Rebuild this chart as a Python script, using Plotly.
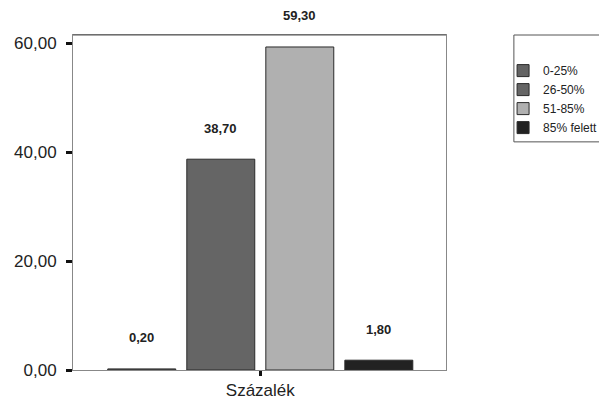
import plotly.graph_objects as go

categories = ["0-25%", "26-50%", "51-85%", "85% felett"]
values = [0.20, 38.70, 59.30, 1.80]
colors = ["#636363", "#656565", "#b0b0b0", "#222222"]
x_label = "Százalék"
y_ticks = [0, 20, 40, 60]

FONT = "Liberation Sans, Arial, sans-serif"

fig = go.Figure()
for i, (cat, val, col) in enumerate(zip(categories, values, colors)):
    fig.add_trace(go.Bar(
        x=[i], y=[val], name=cat, width=0.86,
        marker=dict(color=col, line=dict(color="#2a2a2a", width=1)),
    ))
    fig.add_annotation(
        x=i, y=val, text="<b>" + f"{val:.2f}".replace(".", ",") + "</b>",
        showarrow=False, yanchor="middle", yshift=31,
        font=dict(family=FONT, size=13, color="#222"),
    )

# page body adds an 8px offset, so the figure is sized to end at the window edge
fig.update_layout(
    width=599, height=391,
    margin=dict(l=65, r=161, t=27, b=29, autoexpand=False),
    paper_bgcolor="white", plot_bgcolor="white",
    showlegend=True,
    legend=dict(
        x=1.153, y=0.937, xanchor="left", yanchor="top",
        font=dict(family=FONT, size=12, color="#222"),
        bgcolor="rgba(0,0,0,0)", borderwidth=0,
        tracegroupgap=0,
    ),
    xaxis=dict(
        range=[-0.87, 3.85], tickvals=[(len(categories) - 1) / 2], ticktext=[x_label],
        ticks="outside", ticklen=5, tickwidth=3, tickcolor="#111",
        showline=True, linecolor="#888", linewidth=1, mirror=True,
        showgrid=False, zeroline=False,
        tickfont=dict(family=FONT, size=17, color="#222"),
    ),
    yaxis=dict(
        range=[0, 61.5], tickvals=y_ticks,
        ticktext=[f"{t:.2f}".replace(".", ",") for t in y_ticks],
        ticks="outside", ticklen=6, tickwidth=3, tickcolor="#111",
        showline=True, linecolor="#888", linewidth=1, mirror=True,
        showgrid=False, zeroline=False,
        tickfont=dict(family=FONT, size=17, color="#222"),
        ticklabelstandoff=6,
    ),
    shapes=[
        dict(type="line", xref="paper", yref="paper", x0=0, x1=1, y0=1, y1=1,
             line=dict(color="#555", width=1)),
        dict(type="rect", xref="paper", yref="paper",
             x0=1.182, x1=1.6, y0=0.681, y1=1.0,
             line=dict(color="#555", width=1), fillcolor="rgba(0,0,0,0)"),
    ],
)

fig.write_html("out.html")
